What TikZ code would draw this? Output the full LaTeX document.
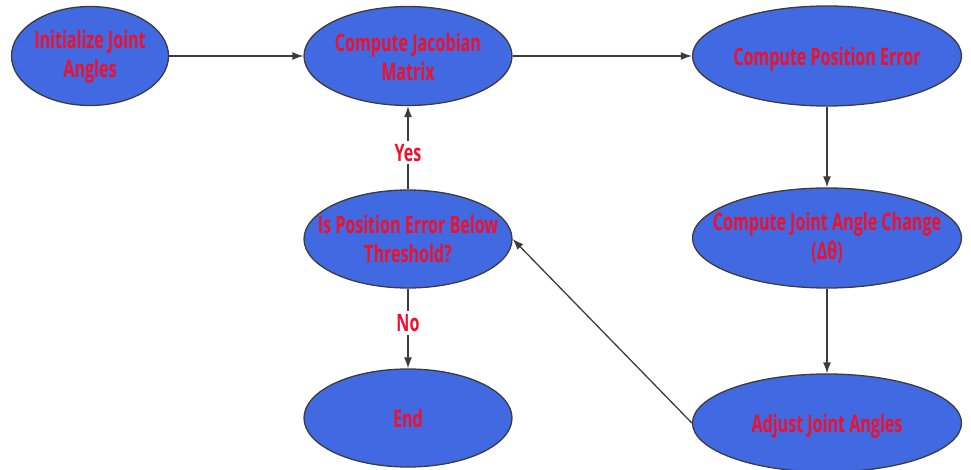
\documentclass[tikz,border=0pt]{standalone}
\usepackage{fontspec}
\setmainfont[FakeStretch=0.67]{Open Sans}
\usetikzlibrary{shapes.geometric,arrows.meta}
\definecolor{fillblue}{HTML}{4169E1}
\definecolor{txtred}{HTML}{F0102A}
\definecolor{edgegray}{HTML}{3C3C3C}
\tikzset{
  ell/.style={ellipse, draw=edgegray, line width=1.3pt, fill=fillblue, inner sep=0pt},
  etext/.style={text=txtred, font=\fontsize{24}{29}\selectfont\bfseries, align=center, inner sep=0pt},
  conn/.style={draw=edgegray, line width=1.3pt, -{Latex[length=11pt,width=8pt]}},
  lbl/.style={fill=white, text=txtred, font=\fontsize{24}{29}\selectfont\bfseries, inner sep=3pt}
}
\begin{document}
\begin{tikzpicture}[x=1pt,y=-1pt]
\useasboundingbox (0,0) rectangle (971,470);
\node[ell, minimum width=157pt, minimum height=99pt, label={[etext, yshift=-1pt]center:{Initialize Joint\\Angles}}] (init) at (90,56) {};
\node[ell, minimum width=208pt, minimum height=99pt, label={[etext, yshift=-1pt]center:{Compute Jacobian\\Matrix}}] (jac) at (408,56) {};
\node[ell, minimum width=269pt, minimum height=100pt, label={[etext, yshift=-3pt]center:{Compute Position Error}}] (perr) at (827,56) {};
\node[ell, minimum width=269pt, minimum height=100pt, label={[etext]center:{Compute Joint Angle Change\\(Δθ)}}] (dth) at (827,238) {};
\node[ell, minimum width=269pt, minimum height=98pt, label={[etext, yshift=-3pt]center:{Adjust Joint Angles}}] (adj) at (827,423) {};
\node[ell, minimum width=208pt, minimum height=98pt, label={[etext]center:{Is Position Error Below\\Threshold?}}] (thr) at (408,239) {};
\node[ell, minimum width=208pt, minimum height=98pt, label={[etext]center:{End}}] (end) at (408,418) {};
\draw[conn] (init) -- (jac);
\draw[conn] (jac) -- (perr);
\draw[conn] (perr) -- (dth);
\draw[conn] (dth) -- (adj);
\draw[conn] (adj.west) -- (thr.east);
\draw[conn] (thr) -- node[lbl, pos=0.44] (yes) {Yes} (jac);
\draw[conn] (thr) -- node[lbl, pos=0.43] (no) {No} (end);
\end{tikzpicture}
\end{document}
